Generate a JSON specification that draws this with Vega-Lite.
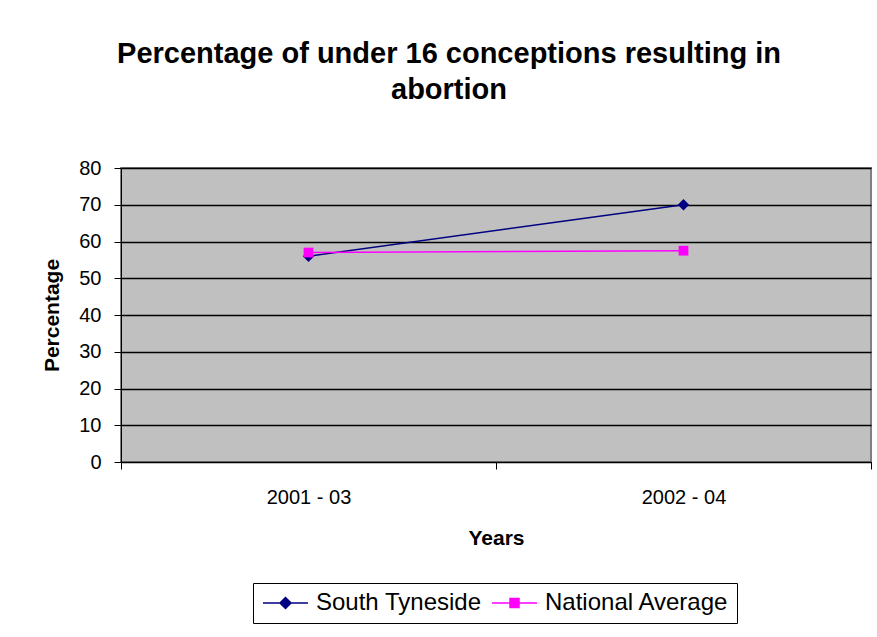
{
  "$schema": "https://vega.github.io/schema/vega-lite/v6.json",
  "width": 750,
  "height": 294,
  "autosize": "none",
  "padding": {"left": 121, "top": 168, "right": 6, "bottom": 175},
  "background": "white",
  "title": {
    "text": ["Percentage of under 16 conceptions resulting in", "abortion"],
    "font": "Liberation Sans",
    "fontSize": 29,
    "fontWeight": "bold",
    "color": "black",
    "anchor": "middle",
    "frame": "group",
    "dx": -47,
    "offset": 53,
    "lineHeight": 36
  },
  "config": {
    "view": {"fill": "#C0C0C0", "stroke": "#808080", "strokeWidth": 2},
    "font": "Liberation Sans"
  },
  "data": {
    "values": [
      {"year": "2001 - 03", "series": "South Tyneside", "value": 56},
      {"year": "2002 - 04", "series": "South Tyneside", "value": 70},
      {"year": "2001 - 03", "series": "National Average", "value": 57},
      {"year": "2002 - 04", "series": "National Average", "value": 57.5}
    ]
  },
  "encoding": {
    "x": {
      "field": "year",
      "type": "nominal",
      "scale": {"type": "band", "paddingInner": 0, "paddingOuter": 0},
      "axis": {
        "title": "Years",
        "titleFont": "Liberation Sans",
        "titleFontSize": 21,
        "titleFontWeight": "bold",
        "titleColor": "black",
        "titlePadding": 20,
        "labelAngle": 0,
        "labelFont": "Liberation Sans",
        "labelFontSize": 20,
        "labelColor": "black",
        "labelPadding": 18,
        "tickBand": "extent",
        "tickSize": 7,
        "tickColor": "black",
        "domainColor": "black",
        "grid": false
      }
    },
    "y": {
      "field": "value",
      "type": "quantitative",
      "scale": {"domain": [0, 80]},
      "axis": {
        "title": "Percentage",
        "titleFont": "Liberation Sans",
        "titleFontSize": 21,
        "titleFontWeight": "bold",
        "titleColor": "black",
        "titlePadding": 16,
        "values": [0, 10, 20, 30, 40, 50, 60, 70, 80],
        "labelFont": "Liberation Sans",
        "labelFontSize": 20,
        "labelColor": "black",
        "labelPadding": 13,
        "tickSize": 7,
        "tickColor": "black",
        "domainColor": "black",
        "grid": true,
        "gridColor": "black",
        "gridOpacity": 1,
        "gridWidth": 1.5
      }
    },
    "color": {
      "field": "series",
      "type": "nominal",
      "scale": {"domain": ["South Tyneside", "National Average"], "range": ["#000080", "#FF00FF"]},
      "legend": {
        "title": null,
        "orient": "none",
        "legendX": 132,
        "legendY": 415,
        "direction": "horizontal",
        "symbolSize": 400,
        "symbolOpacity": 1,
        "symbolStrokeWidth": 1.5,
        "labelFont": "Liberation Sans",
        "labelFontSize": 24,
        "labelColor": "black",
        "labelLimit": 400,
        "labelOffset": 31,
        "columnPadding": 7,
        "padding": 8,
        "strokeColor": "black",
        "fillColor": "white",
        "encode": {
          "symbols": {
            "update": {
              "fill": {"scale": "color", "field": "value"},
              "stroke": {"scale": "color", "field": "value"}
            }
          }
        }
      }
    }
  },
  "layer": [
    {
      "mark": {"type": "line", "strokeWidth": 1.5}
    },
    {
      "transform": [{"filter": "datum.series === 'South Tyneside'"}],
      "mark": {"type": "point", "shape": "diamond", "filled": true, "opacity": 1, "size": 130},
      "encoding": {"color": {"value": "#000080"}}
    },
    {
      "transform": [{"filter": "datum.series === 'National Average'"}],
      "mark": {"type": "point", "shape": "square", "filled": true, "opacity": 1, "size": 95},
      "encoding": {"color": {"value": "#FF00FF"}}
    },
    {
      "mark": {"type": "point", "opacity": 0, "filled": true},
      "encoding": {
        "shape": {
          "field": "series",
          "type": "nominal",
          "scale": {"domain": ["South Tyneside", "National Average"], "range": ["M-1,0H3.5M1.25,-0.55L1.8,0L1.25,0.55L0.7,0Z", "M-1,0H3.5M0.8,-0.45H1.7V0.45H0.8Z"]}
        }
      }
    }
  ]
}
